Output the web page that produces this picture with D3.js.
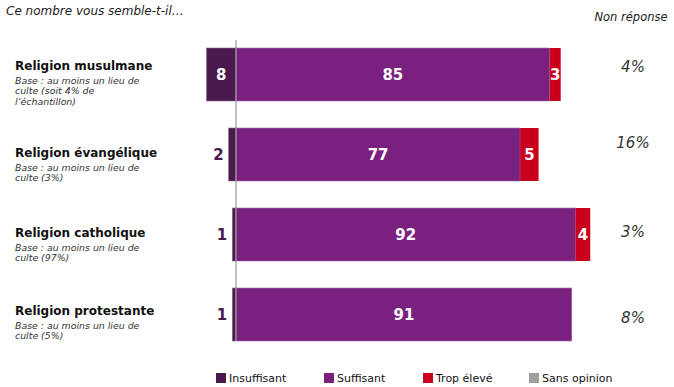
<!DOCTYPE html>
<html><head><meta charset="utf-8">
<script src="https://cdn.jsdelivr.net/npm/d3@7"></script>
<style>body{margin:0;background:#fff}svg{display:block}</style>
</head><body>
<script>
const categories = ["Religion musulmane","Religion évangélique","Religion catholique","Religion protestante"];
const subtitles = [["Base : au moins un lieu de","culte (soit 4% de","l’échantillon)"],["Base : au moins un lieu de","culte (3%)"],["Base : au moins un lieu de","culte (97%)"],["Base : au moins un lieu de","culte (5%)"]];
const insuffisant = [8,2,1,1];
const suffisant = [85,77,92,91];
const tropEleve = [3,5,4,0];
const sansOpinion = [0,0,0,0];
const nonReponse = ["4%","16%","3%","8%"];
const seriesNames = ["Insuffisant","Suffisant","Trop élevé","Sans opinion"];
const colors = ["#4a1a4f","#7a2180","#c8001e","#a09fa0"];

const W=674,H=387;
const svg=d3.select("body").append("svg").attr("width",W).attr("height",H);
const font="DejaVu Sans, Verdana, sans-serif";

const x=d3.scaleLinear().domain([0,100]).range([236,236+369]);
const y=d3.scaleBand().domain(categories).range([34.5,354.5]).paddingInner(0.3375).paddingOuter(0.16875);

svg.append("text").attr("x",6).attr("y",15).attr("font-family",font).attr("font-style","italic").attr("font-size",12).attr("fill","#222").text("Ce nombre vous semble-t-il…");
svg.append("text").attr("x",631).attr("y",21).attr("text-anchor","middle").attr("font-family",font).attr("font-style","italic").attr("font-size",11.5).attr("fill","#222").text("Non réponse");

const titleBase=[70,157,237,315];
categories.forEach((c,i)=>{
  const g=svg.append("g");
  g.append("text").attr("x",15).attr("y",titleBase[i]).attr("font-family",font).attr("font-weight","bold").attr("font-size",12).attr("fill","#111").text(c);
  subtitles[i].forEach((s,j)=>{
    g.append("text").attr("x",15).attr("y",titleBase[i]+13.5+j*10.5).attr("font-family",font).attr("font-style","italic").attr("font-size",9.4).attr("fill","#333").text(s);
  });
});

const bh=y.bandwidth();
categories.forEach((c,i)=>{
  const y0=y(c);
  const cy=y0+bh/2;
  const xl=x(0)-(x(insuffisant[i])-x(0));
  svg.append("rect").attr("x",xl).attr("y",y0).attr("width",x(0)-xl).attr("height",bh).attr("fill",colors[0]).attr("stroke","#8a6a8e").attr("stroke-width",0.6);
  svg.append("rect").attr("x",x(0)).attr("y",y0).attr("width",x(suffisant[i])-x(0)).attr("height",bh).attr("fill",colors[1]).attr("stroke","#a070a5").attr("stroke-width",0.6);
  const x2=x(suffisant[i]);
  if(tropEleve[i]>0){
    svg.append("rect").attr("x",x2).attr("y",y0).attr("width",x(suffisant[i]+tropEleve[i])-x2).attr("height",bh).attr("fill",colors[2]);
  }
  const lbl=(tx,t,fill,anchor)=>svg.append("text").attr("x",tx).attr("y",cy).attr("dy","0.36em").attr("text-anchor",anchor||"middle").attr("font-family",font).attr("font-weight","bold").attr("font-size",15).attr("fill",fill).text(t);
  if(insuffisant[i]>=5) lbl((xl+x(0))/2,insuffisant[i],"#fff");
  else lbl(xl-5,insuffisant[i],colors[0],"end");
  lbl((x(0)+x2)/2,suffisant[i],"#fff");
  if(tropEleve[i]>0) lbl((x2+x(suffisant[i]+tropEleve[i]))/2,tropEleve[i],"#fff");
});

const nrY=[72,148,237,323];
nonReponse.forEach((t,i)=>{
  svg.append("text").attr("x",633).attr("y",nrY[i]).attr("text-anchor","middle").attr("font-family",font).attr("font-style","italic").attr("font-size",15).attr("fill","#333").text(t);
});

svg.append("line").attr("x1",x(0)).attr("x2",x(0)).attr("y1",40).attr("y2",341).attr("stroke","#999").attr("stroke-width",1.2);

const legX=[216,324,423,529];
seriesNames.forEach((s,i)=>{
  svg.append("rect").attr("x",legX[i]).attr("y",373).attr("width",10).attr("height",10).attr("fill",colors[i]);
  svg.append("text").attr("x",legX[i]+13).attr("y",382).attr("font-family",font).attr("font-size",11).attr("fill","#111").text(s);
});
</script>
</body></html>
